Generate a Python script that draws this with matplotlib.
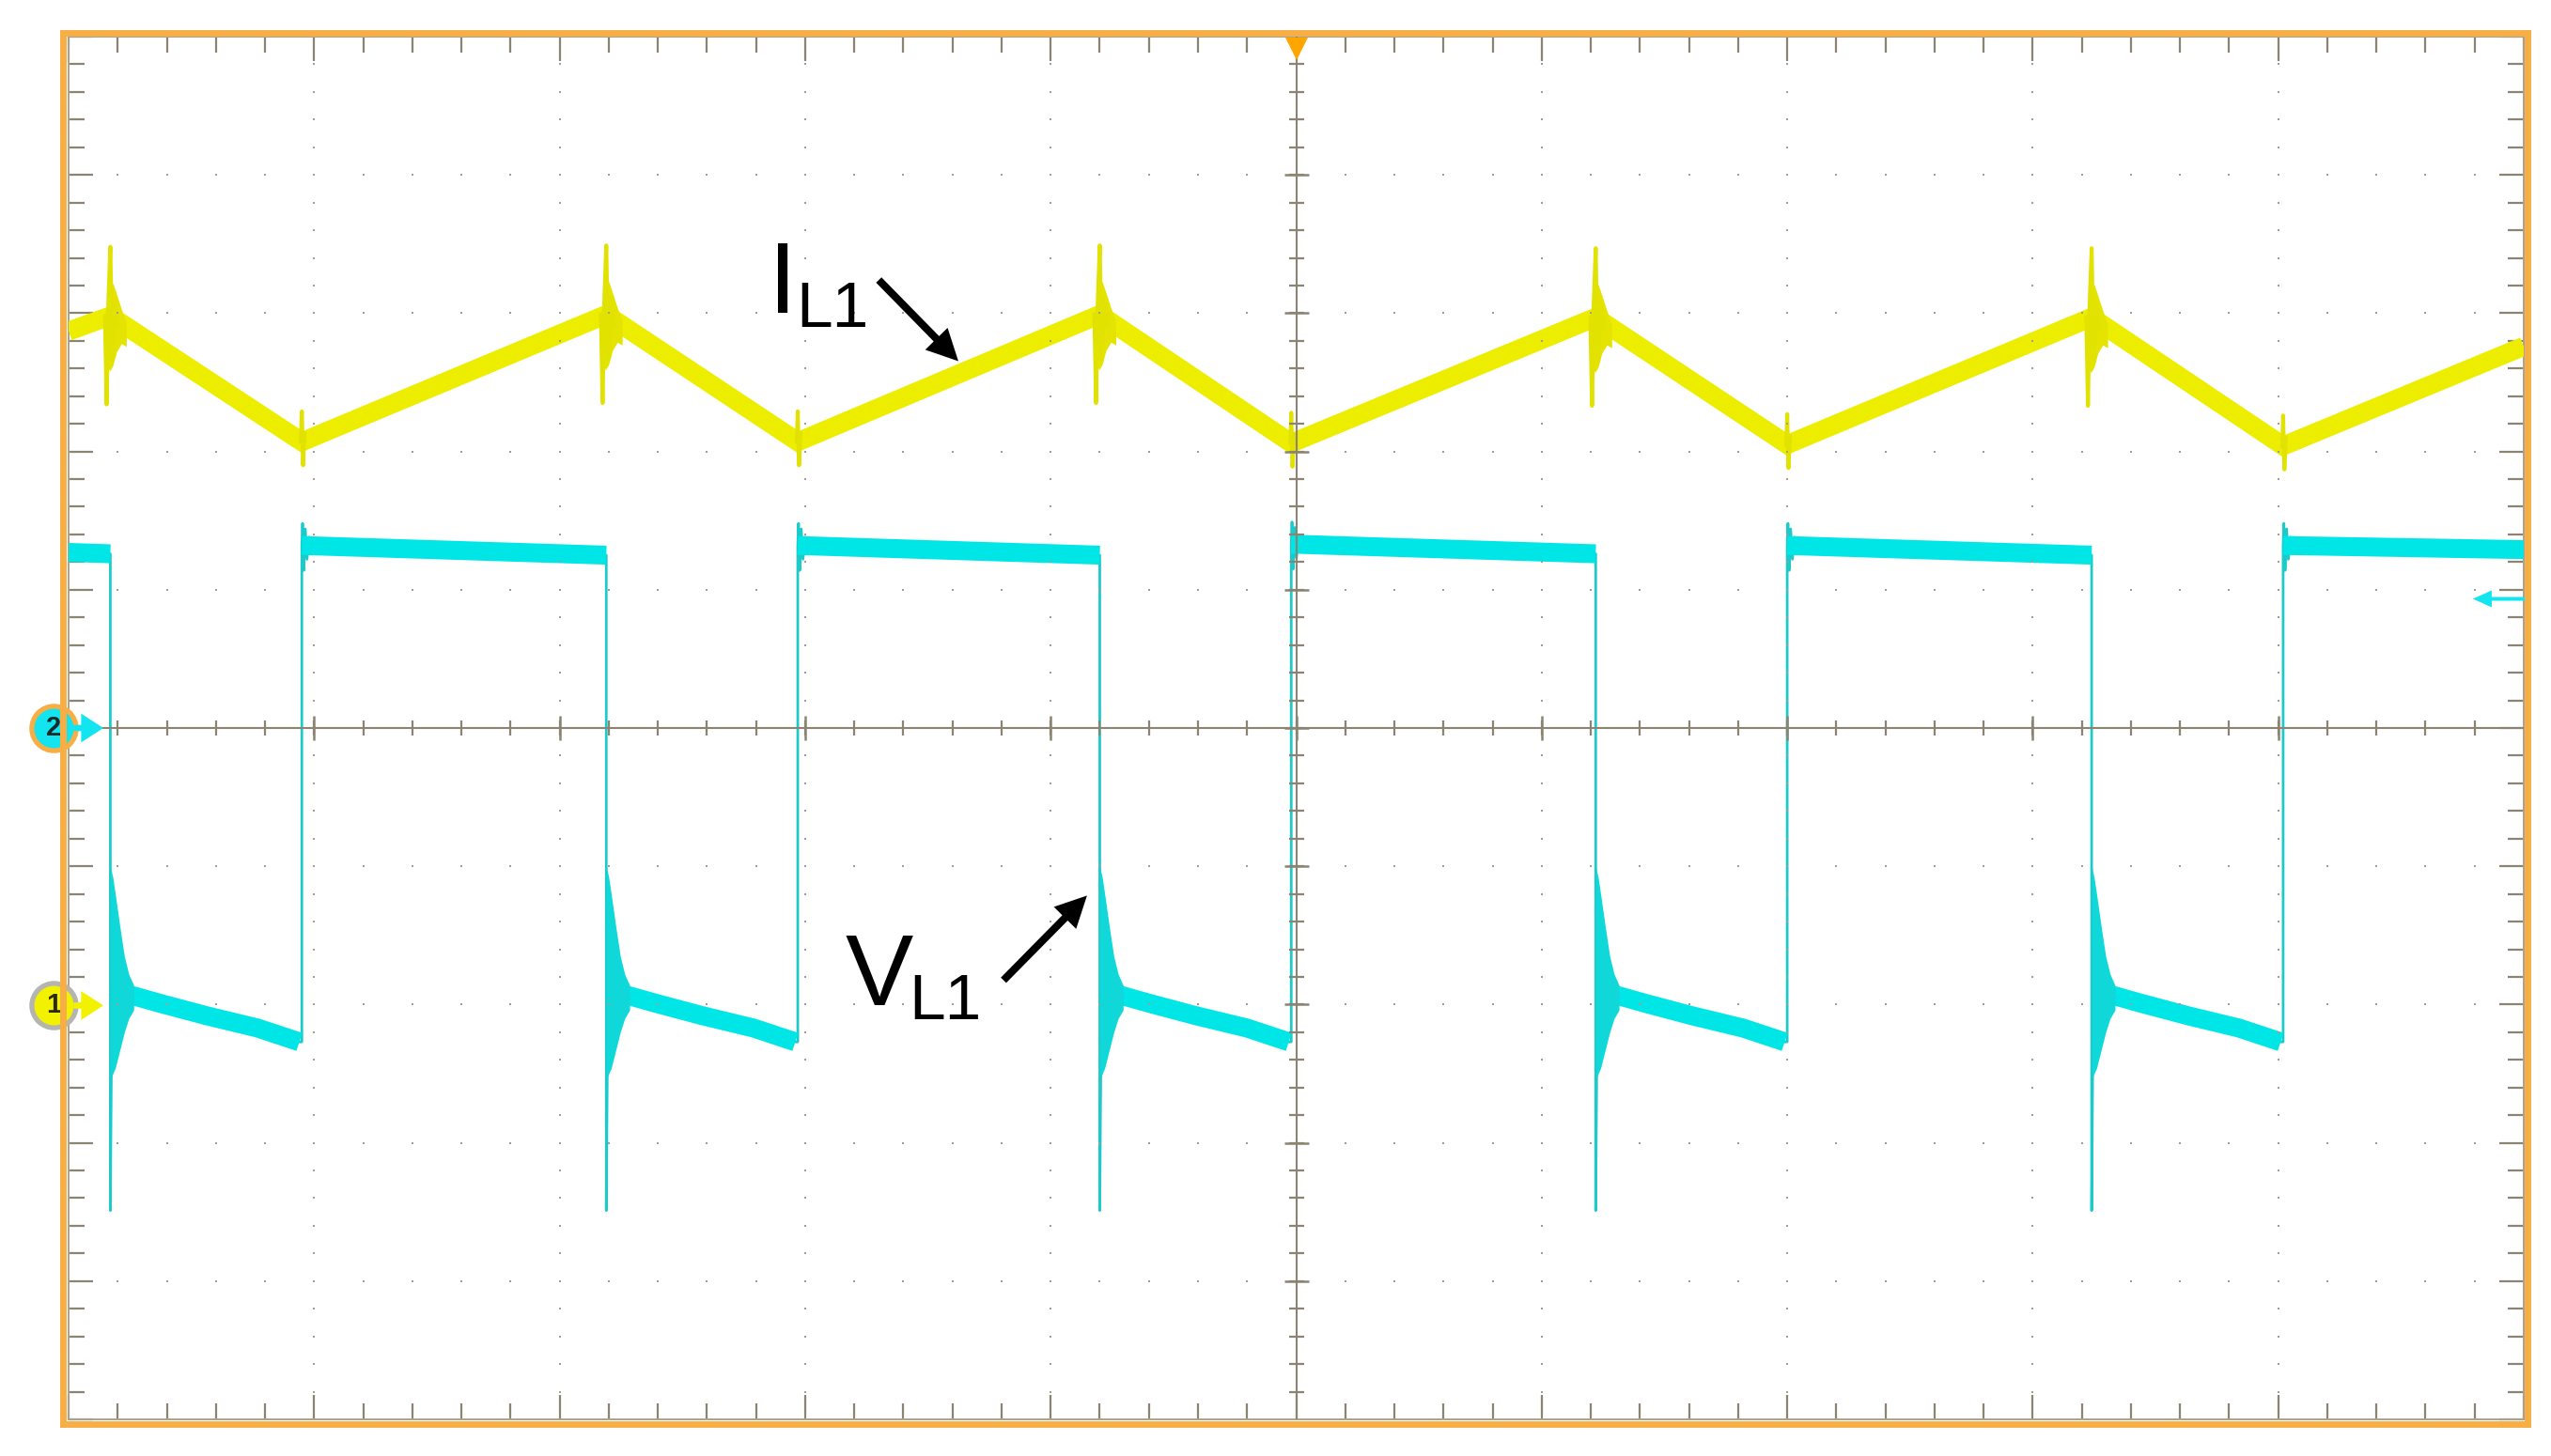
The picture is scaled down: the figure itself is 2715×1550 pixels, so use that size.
import numpy as np
import matplotlib
matplotlib.use("Agg")
import matplotlib.pyplot as plt
from matplotlib.patches import Rectangle

# ---- trace data, in screen divisions (10 x 10 graticule, y=0 at centre) ----
# switching instants
fall_t = [0.17, 2.19, 4.20, 6.22, 8.24]   # VL1 high->low, IL1 peak
rise_t = [0.95, 2.97, 4.98, 7.00, 9.02]   # VL1 low->high, IL1 valley

# inductor current IL1 (yellow)
il_start = 2.87
il_peak = [2.98, 2.99, 2.99, 2.97, 2.97]
il_valley = [2.07, 2.07, 2.06, 2.05, 2.04]
il_end = 2.76
# ringing blob at each peak: envelope (time offset, upper / lower offset from peak)
il_env_dt = [-0.022, -0.012, -0.003, 0.010, 0.025, 0.045, 0.065]
il_env_hi = [0.02, 0.08, 0.16, 0.24, 0.16, 0.05, -0.05]
il_env_lo = [-0.12, -0.36, -0.40, -0.36, -0.26, -0.20, -0.22]
# thin spikes at each peak
il_ring_dt = [-0.022, -0.015, -0.008, 0.000, 0.008, 0.018, 0.030]
il_ring_dy = [0.00, -0.64, 0.10, 0.50, -0.32, 0.12, -0.08]
# small glitch at each valley
il_vring_dt = [-0.004, 0.000, 0.005, 0.011]
il_vring_dy = [0.00, 0.22, -0.17, 0.06]

# inductor voltage VL1 (cyan)
vl_high_a = [1.27, 1.32, 1.32, 1.33, 1.32, 1.32]   # level at start of each high stretch
vl_high_b = [1.26, 1.25, 1.25, 1.26, 1.25, 1.29]   # level at end of each high stretch
vl_spike = -3.49
# ringing envelope after each falling edge
vl_env_dt = [0.000, 0.010, 0.020, 0.040, 0.057, 0.075, 0.095]
vl_env_hi = [-1.00, -1.08, -1.20, -1.45, -1.65, -1.78, -1.86]
vl_env_lo = [-2.52, -2.50, -2.46, -2.32, -2.20, -2.10, -2.04]
vl_low_dt = [0.06, 0.20, 0.39, 0.60, 0.77]
vl_low_y = [-1.92, -1.99, -2.08, -2.17, -2.27]
vl_over_dt = [0.003, 0.008, 0.014, 0.021, 0.030, 0.040]
vl_over_dy = [0.16, -0.18, 0.12, -0.10, 0.06, -0.03]

W, H = 2715, 1550
ORANGE = "#f7ae45"
GRID = "#8c8472"
DOT = "#a39d8f"
YELLOW = "#eded00"
CYAN = "#00e6e6"
CYAN_EDGE = "#1ccaca"
FONT = ["Liberation Sans", "DejaVu Sans"]

fig = plt.figure(figsize=(W / 100, H / 100), dpi=100)
fig.patch.set_facecolor("white")
ax = fig.add_axes([73 / W, 1 - 1511 / H, 2613 / W, 1472 / H])
ax.set_xlim(0, 10)
ax.set_ylim(-5, 5)
ax.set_facecolor("white")

# ---- graticule ----
for s in ax.spines.values():
    s.set_color("#a8a290")
    s.set_linewidth(1.4)
ax.set_xticks(np.arange(0, 11, 1))
ax.set_yticks(np.arange(-5, 6, 1))
ax.set_xticks(np.arange(0, 10.01, 0.2), minor=True)
ax.set_yticks(np.arange(-5, 5.01, 0.2), minor=True)
ax.tick_params(which="both", direction="in", top=True, right=True,
               labelbottom=False, labelleft=False, color=GRID, width=1.6)
ax.tick_params(which="major", length=19)
ax.tick_params(which="minor", length=12)

minor = np.arange(0.2, 10, 0.2)
minor_y = np.arange(-4.8, 5, 0.2)
for k in range(1, 10):
    if k == 5:
        continue
    ax.plot(np.full(minor_y.size, k), minor_y, ls="none", marker="s", ms=1.6,
            color=DOT, mew=0, zorder=5)
for k in range(-4, 5):
    if k == 0:
        continue
    ax.plot(minor, np.full(minor.size, k), ls="none", marker="s", ms=1.6,
            color=DOT, mew=0, zorder=5)

ax.axhline(0, color=GRID, lw=1.5, zorder=5)
ax.axvline(5, color=GRID, lw=1.5, zorder=5)
ax.plot(minor, np.zeros(minor.size), ls="none", marker="|", ms=11.5, mew=1.6, color=GRID, zorder=5)
ax.plot(np.arange(1, 10), np.zeros(9), ls="none", marker="|", ms=19, mew=1.8, color=GRID, zorder=5)
ax.plot(np.full(minor_y.size, 5), minor_y, ls="none", marker="_", ms=11.5, mew=1.6, color=GRID, zorder=5)
ax.plot(np.full(9, 5), np.arange(-4, 5), ls="none", marker="_", ms=19, mew=1.8, color=GRID, zorder=5)

# ---- IL1 (yellow) ----
il_t = [0.0]
il_y = [il_start]
for i in range(5):
    il_t += [fall_t[i], rise_t[i]]
    il_y += [il_peak[i], il_valley[i]]
il_t.append(10.0)
il_y.append(il_end)
ax.plot(il_t, il_y, color=YELLOW, lw=14.5, solid_joinstyle="miter",
        solid_capstyle="butt", zorder=3)
for i in range(5):
    ax.fill_between([fall_t[i] + d for d in il_env_dt],
                    [il_peak[i] + d for d in il_env_lo],
                    [il_peak[i] + d for d in il_env_hi],
                    color="#e4e400", lw=0, zorder=3)
    ax.plot([fall_t[i] + d for d in il_ring_dt], [il_peak[i] + d for d in il_ring_dy],
            color="#e2e200", lw=3, zorder=3)
    ax.plot([rise_t[i] + d for d in il_vring_dt], [il_valley[i] + d for d in il_vring_dy],
            color="#e2e200", lw=3, zorder=3)

# ---- VL1 (cyan) ----
vl_t = [0.0]
vl_y = [vl_high_a[0]]
for i in range(5):
    f, r = fall_t[i], rise_t[i]
    vl_t += [f, f, f + 0.004]
    vl_y += [vl_high_b[i], vl_spike, vl_env_lo[0]]
    vl_t += [f + d for d in vl_low_dt]
    vl_y += vl_low_y
    vl_t += [r, r]
    vl_y += [vl_low_y[-1], vl_high_a[i + 1]]
    vl_t += [r + d for d in vl_over_dt]
    vl_y += [vl_high_a[i + 1] + d for d in vl_over_dy]
vl_t.append(10.0)
vl_y.append(vl_high_b[5])
ax.plot(vl_t, vl_y, color=CYAN_EDGE, lw=2.0, zorder=3)

high_start = [0.0] + rise_t
high_end = fall_t + [10.0]
for a, b, ya, yb in zip(high_start, high_end, vl_high_a, vl_high_b):
    ax.plot([a, b], [ya, yb], color=CYAN, lw=14.5, solid_capstyle="butt", zorder=3)
for f in fall_t:
    ax.plot([f + d for d in vl_low_dt], vl_low_y, color=CYAN, lw=14.5,
            solid_capstyle="butt", zorder=3)
    ax.fill_between([f + d for d in vl_env_dt], vl_env_lo, vl_env_hi,
                    color="#10d8d8", lw=0, zorder=3)

# ---- labels and arrows ----
ax.text(2.851, 3.006, "I", fontsize=78, family=FONT, ha="left", va="baseline", zorder=8)
ax.text(2.962, 2.904, "L1", fontsize=50, family=FONT, ha="left", va="baseline", zorder=8)
ax.text(3.165, -2.007, "V", fontsize=78, family=FONT, ha="left", va="baseline", zorder=8)
ax.text(3.421, -2.109, "L1", fontsize=50, family=FONT, ha="left", va="baseline", zorder=8)

arrow = dict(arrowstyle="simple,head_length=1.2,head_width=1.2,tail_width=0.29",
             mutation_scale=20, fc="black", lw=0, shrinkA=0, shrinkB=0)
ax.annotate("", xy=(3.624, 2.653), xytext=(3.30, 3.24), arrowprops=arrow, zorder=8)
ax.annotate("", xy=(4.148, -1.212), xytext=(3.808, -1.824), arrowprops=arrow, zorder=8)

# channel markers on the left
mx = (57 - 73) / 261.3
ax.plot([mx], [0], marker="o", ms=34, mfc="#12e4f0", mec=ORANGE, mew=3.8,
        clip_on=False, zorder=9)
ax.text(mx, 0, "2", fontsize=21, fontweight="bold", family=FONT, ha="center",
        va="center", clip_on=False, zorder=10, color="#1a2a2a")
ax.plot([mx], [-2.007], marker="o", ms=34, mfc="#f2f200", mec="#b4b4b0", mew=3.8,
        clip_on=False, zorder=9)
ax.text(mx, -2.007, "1", fontsize=21, fontweight="bold", family=FONT, ha="center",
        va="center", clip_on=False, zorder=10, color="#2a2a10")
small = "simple,head_length=1.0,head_width=1.3,tail_width=0.28"
ax.annotate("", xy=(0.1416, 0), xytext=(0.02, 0), annotation_clip=False, zorder=9,
            arrowprops=dict(arrowstyle=small, mutation_scale=17, fc="#12e4f0", lw=0,
                            shrinkA=0, shrinkB=0))
ax.annotate("", xy=(0.1416, -2.007), xytext=(0.02, -2.007), annotation_clip=False, zorder=9,
            arrowprops=dict(arrowstyle=small, mutation_scale=17, fc="#f2f200", lw=0,
                            shrinkA=0, shrinkB=0))

# cyan offset arrow on the right, trigger marker on top
ax.annotate("", xy=(9.793, 0.934), xytext=(10.02, 0.934), annotation_clip=False, zorder=9,
            arrowprops=dict(arrowstyle="simple,head_length=1.44,head_width=1.3,tail_width=0.29",
                            mutation_scale=10, fc="#12e4f0", lw=0, shrinkA=0, shrinkB=0))
ax.plot([5], [4.91], marker="v", ms=17, color="#ffa500", mew=0, clip_on=False, zorder=9)

# orange bezel
fig.add_artist(Rectangle((67 / W, 1 - 1516 / H), (2690 - 67) / W, (1516 - 35) / H,
                         transform=fig.transFigure, fill=False, ec=ORANGE, lw=5,
                         joinstyle="miter"))

fig.savefig("out.png", dpi=100)
